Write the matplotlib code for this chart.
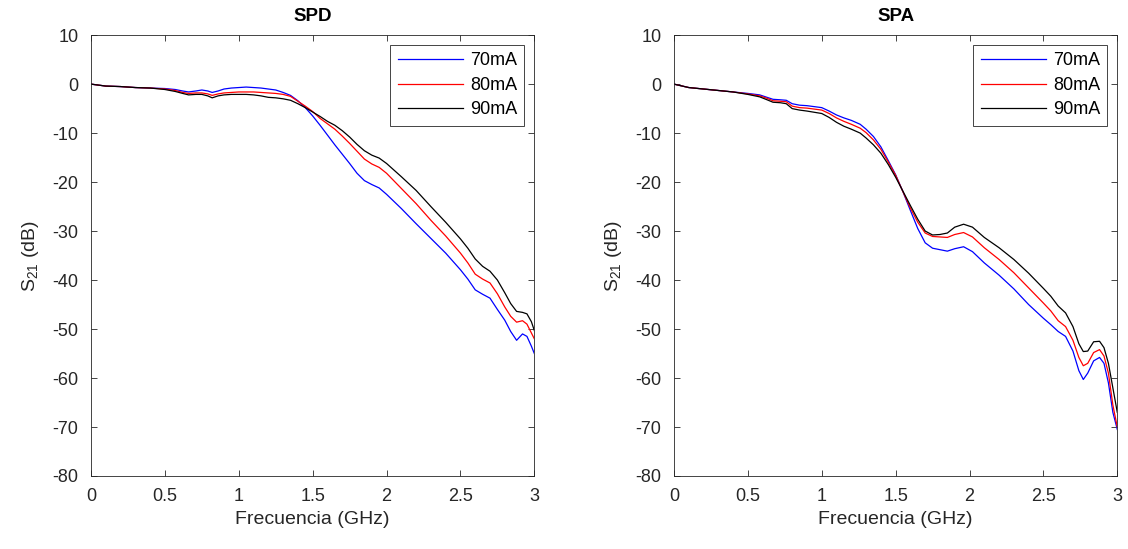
import matplotlib.pyplot as plt

plt.rcParams['font.family'] = ['Liberation Sans', 'DejaVu Sans']
plt.rcParams['axes.unicode_minus'] = False

labels = ["70mA", "80mA", "90mA"]
colors = ["blue", "red", "black"]

# SPD panel
f_spd = [0, 0.1, 0.2, 0.3, 0.4, 0.5, 0.57, 0.62, 0.66, 0.71, 0.75, 0.79, 0.82, 0.86, 0.9, 0.95,
         1.0, 1.05, 1.1, 1.15, 1.2, 1.25, 1.3, 1.35, 1.4, 1.45, 1.5, 1.55, 1.6, 1.65, 1.7, 1.75,
         1.8, 1.85, 1.9, 1.95, 2.0, 2.1, 2.2, 2.3, 2.4, 2.5, 2.55, 2.6, 2.65, 2.7, 2.75, 2.8,
         2.84, 2.88, 2.92, 2.95, 2.98, 3.0]
spd_70 = [0, -0.4, -0.5, -0.7, -0.8, -0.9, -1.1, -1.4, -1.6, -1.4, -1.2, -1.4, -1.7, -1.4, -1.0, -0.8,
          -0.7, -0.6, -0.7, -0.8, -1.0, -1.2, -1.7, -2.3, -3.4, -4.8, -6.5, -8.4, -10.4, -12.4, -14.3, -16.2,
          -18.2, -19.7, -20.5, -21.2, -22.5, -25.4, -28.5, -31.5, -34.5, -37.9, -39.8, -42.0, -42.9, -43.7, -46.0, -48.2,
          -50.5, -52.3, -51.0, -51.5, -53.5, -55.0]
spd_80 = [0, -0.4, -0.5, -0.7, -0.8, -1.0, -1.3, -1.7, -1.9, -1.8, -1.8, -2.0, -2.3, -2.0, -1.8, -1.7,
          -1.6, -1.6, -1.6, -1.7, -1.8, -1.9, -2.1, -2.5, -3.5, -4.5, -5.6, -7.0, -8.1, -9.2, -10.6, -12.1,
          -13.7, -15.3, -16.3, -17.0, -18.2, -21.3, -24.4, -27.8, -31.0, -34.5, -36.5, -38.8, -39.8, -40.6, -42.8, -45.5,
          -47.4, -48.6, -48.3, -49.0, -50.8, -52.0]
spd_90 = [0, -0.4, -0.5, -0.7, -0.8, -1.1, -1.5, -1.9, -2.2, -2.1, -2.1, -2.4, -2.8, -2.4, -2.2, -2.1,
          -2.1, -2.1, -2.2, -2.4, -2.7, -2.8, -3.0, -3.3, -4.0, -4.8, -5.7, -6.6, -7.6, -8.4, -9.5, -10.8,
          -12.3, -13.6, -14.5, -15.1, -16.2, -18.9, -21.7, -25.0, -28.2, -31.6, -33.5, -35.7, -37.2, -38.2, -40.0, -42.6,
          -44.8, -46.4, -46.6, -46.9, -48.5, -50.3]

# SPA panel
f_spa = [0, 0.1, 0.2, 0.3, 0.4, 0.5, 0.58, 0.63, 0.67, 0.72, 0.76, 0.8, 0.85, 0.9, 1.0, 1.05,
         1.1, 1.15, 1.2, 1.26, 1.3, 1.35, 1.4, 1.45, 1.5, 1.55, 1.6, 1.65, 1.7, 1.75, 1.8, 1.85,
         1.9, 1.96, 2.02, 2.1, 2.2, 2.3, 2.4, 2.5, 2.55, 2.6, 2.65, 2.7, 2.74, 2.77, 2.8, 2.84,
         2.88, 2.91, 2.94, 2.97, 3.0]
spa_70 = [0, -0.7, -1.0, -1.3, -1.6, -1.9, -2.2, -2.7, -3.1, -3.2, -3.3, -4.0, -4.3, -4.4, -4.8, -5.5,
          -6.3, -6.9, -7.4, -8.2, -9.2, -10.7, -12.8, -15.6, -18.5, -22.0, -25.8, -29.5, -32.4, -33.5, -33.8, -34.1,
          -33.6, -33.2, -34.2, -36.5, -39.0, -41.8, -45.0, -47.8, -49.1, -50.5, -51.5, -54.5, -58.5, -60.3, -59.0, -56.5,
          -55.8, -57.0, -61.0, -67.0, -70.5]
spa_80 = [0, -0.7, -1.0, -1.3, -1.6, -2.0, -2.4, -2.9, -3.4, -3.5, -3.6, -4.5, -4.8, -4.9, -5.3, -6.0,
          -6.9, -7.6, -8.2, -9.0, -9.9, -11.4, -13.3, -15.9, -18.6, -22.0, -25.3, -28.2, -30.4, -31.1, -31.2, -31.3,
          -30.7, -30.3, -31.2, -33.4, -35.8, -38.5, -41.6, -44.7, -46.3, -48.3, -49.5, -52.3, -55.8, -57.5, -57.0, -54.8,
          -54.2, -55.5, -59.0, -65.5, -70.0]
spa_90 = [0, -0.7, -1.0, -1.3, -1.6, -2.1, -2.6, -3.2, -3.7, -3.8, -4.0, -5.0, -5.3, -5.5, -6.0, -6.8,
          -7.8, -8.6, -9.2, -10.0, -11.0, -12.4, -14.1, -16.4, -19.0, -21.9, -24.8, -27.6, -30.0, -30.8, -30.7, -30.4,
          -29.2, -28.6, -29.2, -31.3, -33.4, -35.8, -38.6, -41.7, -43.3, -45.3, -46.7, -49.5, -53.0, -54.6, -54.5, -52.6,
          -52.5, -53.8, -57.0, -62.0, -67.0]

panels = [
    ("SPD", f_spd, [spd_70, spd_80, spd_90]),
    ("SPA", f_spa, [spa_70, spa_80, spa_90]),
]

fig = plt.figure(figsize=(11.28, 5.49), dpi=100)
axes_pos = [[0.0807, 0.133, 0.393, 0.803], [0.5975, 0.133, 0.393, 0.803]]
axc = (0.15, 0.15, 0.15)

for pos, (title, f, series) in zip(axes_pos, panels):
    ax = fig.add_axes(pos)
    for y, c, lab in zip(series, colors, labels):
        ax.plot(f, y, color=c, lw=0.9, label=lab)
    ax.set_xlim(0, 3)
    ax.set_ylim(-80, 10)
    ax.set_xticks([0, 0.5, 1, 1.5, 2, 2.5, 3])
    ax.set_xticklabels(["0", "0.5", "1", "1.5", "2", "2.5", "3"])
    ax.set_yticks(range(-80, 11, 10))
    ax.tick_params(direction="in", top=True, right=True, length=4, width=0.6,
                   labelsize=13, colors=axc, labelcolor="#262626")
    ax.tick_params(axis="x", pad=9)
    ax.tick_params(axis="y", pad=9)
    for s in ax.spines.values():
        s.set_color(axc)
        s.set_linewidth(0.6)
    ax.set_title(title, fontsize=13.5, fontweight="bold", pad=10)
    ax.set_xlabel("Frecuencia (GHz)", fontsize=14, color="#262626", labelpad=4)
    ax.set_ylabel(r"S$_{\mathregular{21}}$ (dB)", fontsize=14, color="#262626", labelpad=8)
    leg = ax.legend(loc="upper right", fontsize=13, handlelength=3.6, fancybox=False,
                    framealpha=1, edgecolor=axc, borderaxespad=0.55, labelspacing=0.42,
                    handletextpad=0.4, borderpad=0.4)
    leg.get_frame().set_linewidth(0.6)

fig.savefig("out.png", dpi=100)
